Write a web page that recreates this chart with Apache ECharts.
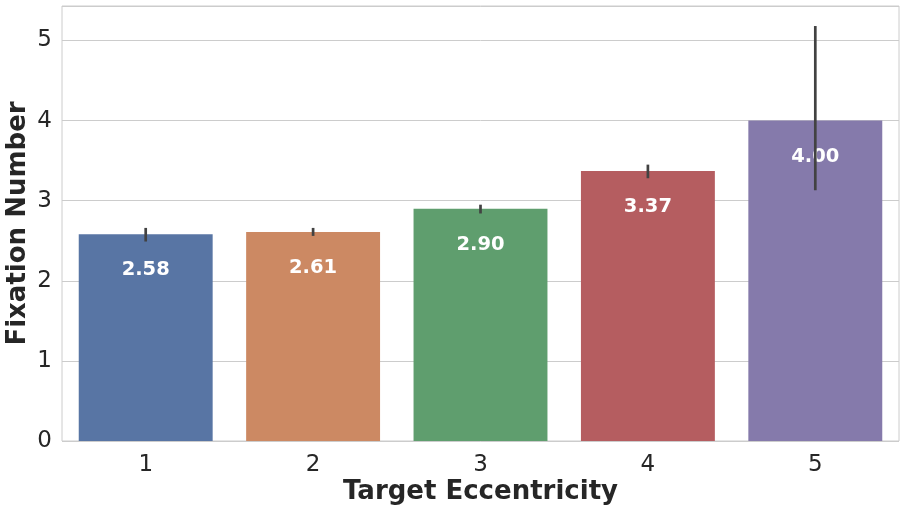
<!DOCTYPE html>
<html>
<head>
<meta charset="utf-8">
<script src="https://cdn.jsdelivr.net/npm/echarts@6/dist/echarts.min.js"></script>
<style>html,body{margin:0;padding:0;background:#fff;}#c{width:906px;height:512px;}</style>
</head>
<body>
<div id="c"></div>
<script>
const categories = ['1', '2', '3', '4', '5'];
const values = [2.58, 2.61, 2.90, 3.37, 4.00];
const errLow = [2.49, 2.56, 2.84, 3.28, 3.13];
const errHigh = [2.66, 2.66, 2.95, 3.45, 5.18];
const colors = ['#5875a4', '#cc8963', '#5f9e6e', '#b55d60', '#857aab'];
const yTicks = [0, 1, 2, 3, 4, 5];

const font = 'DejaVu Sans';
const chart = echarts.init(document.getElementById('c'), null, {renderer: 'canvas'});
chart.setOption({
  animation: false,
  backgroundColor: '#ffffff',
  grid: {left: 62, right: 7, top: 6, bottom: 71, show: true, borderColor: '#cccccc', borderWidth: 1,
         containLabel: false, outerBoundsMode: 'none'},
  xAxis: {
    type: 'category',
    data: categories,
    name: 'Target Eccentricity',
    nameLocation: 'middle',
    nameGap: 38,
    nameMoveOverlap: false,
    nameTextStyle: {fontFamily: font, fontSize: 26, fontWeight: 'bold', color: '#262626'},
    axisLine: {show: false},
    axisTick: {show: false},
    axisLabel: {fontFamily: font, fontSize: 23, color: '#262626', margin: 13},
    splitLine: {show: false}
  },
  yAxis: {
    type: 'value',
    min: 0,
    max: 5.43,
    interval: 1,
    name: 'Fixation Number',
    nameLocation: 'middle',
    nameGap: 31,
    nameMoveOverlap: false,
    nameTextStyle: {fontFamily: font, fontSize: 26, fontWeight: 'bold', color: '#262626'},
    axisLine: {show: false},
    axisTick: {show: false},
    axisLabel: {fontFamily: font, fontSize: 23, color: '#262626', margin: 10,
      formatter: v => (yTicks.indexOf(v) >= 0 ? String(v) : '')},
    splitLine: {lineStyle: {color: '#cccccc', width: 1}}
  },
  series: [
    {
      type: 'bar',
      barCategoryGap: '20%',
      data: values.map((v, i) => ({value: v, itemStyle: {color: colors[i]}})),
      label: {
        show: true,
        position: 'insideTop',
        distance: 26,
        fontFamily: font,
        fontSize: 19.5,
        fontWeight: 'bold',
        color: '#ffffff',
        formatter: p => p.value.toFixed(2)
      },
      z: 2
    },
    {
      type: 'custom',
      data: categories.map((c, i) => [i, errLow[i], errHigh[i]]),
      renderItem: function (params, api) {
        const x = api.value(0);
        const p1 = api.coord([x, api.value(1)]);
        const p2 = api.coord([x, api.value(2)]);
        return {
          type: 'line',
          shape: {x1: p1[0], y1: p1[1], x2: p2[0], y2: p2[1]},
          style: {stroke: '#424242', lineWidth: 2.7}
        };
      },
      z: 5
    }
  ]
});
</script>
</body>
</html>
